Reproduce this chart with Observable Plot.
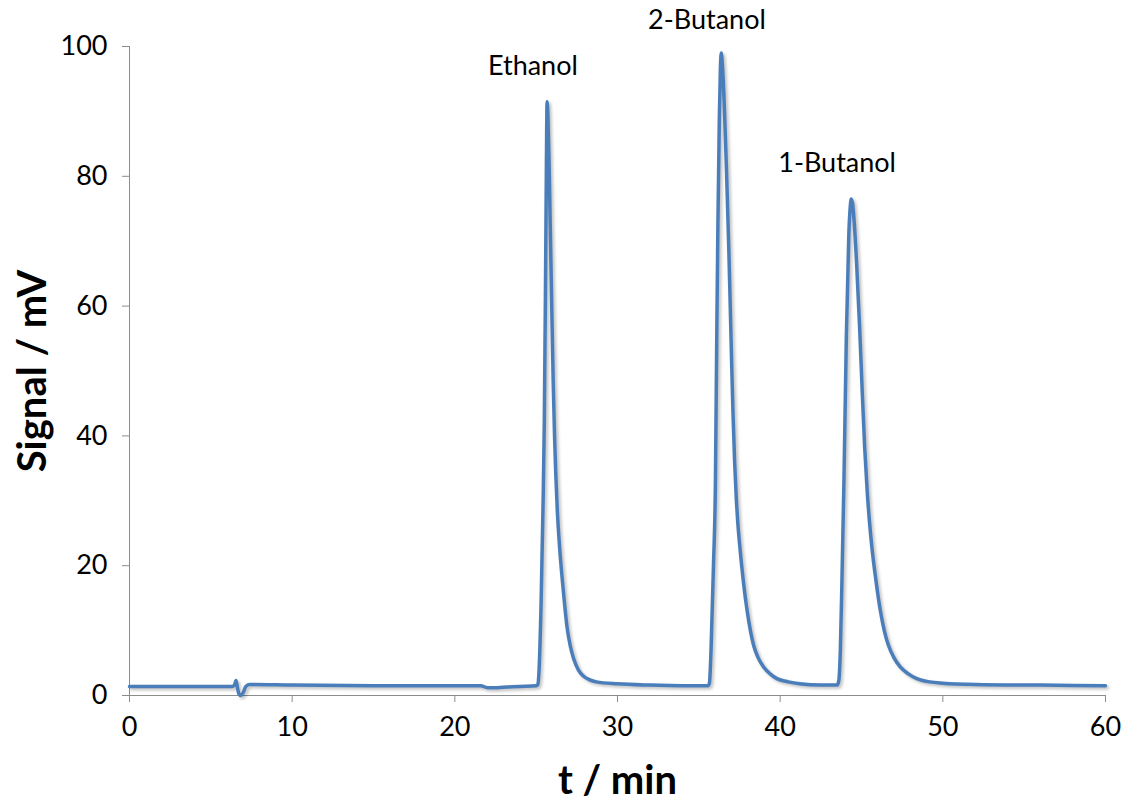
<!DOCTYPE html>
<html>
<head>
<meta charset="utf-8">
<script src="https://cdn.jsdelivr.net/npm/d3@7"></script>
<script src="https://cdn.jsdelivr.net/npm/@observablehq/plot@0.6"></script>
<style>
  html, body { margin: 0; padding: 0; background: #fff; }
  #chart svg { display: block; }
</style>
</head>
<body>
<div id="chart"></div>
<script>
// Retention time (min) and detector signal (mV) of the chromatogram
const times = [
  0, 6.3, 6.45, 6.55, 6.62, 6.72, 6.85, 7.0, 7.15, 7.4, 10, 15, 20, 21.6, 22.0, 22.6, 23.2, 24, 25.0,
  // ethanol
  25.1, 25.18, 25.3, 25.42, 25.5, 25.57, 25.63, 25.67, 25.72, 25.8, 25.92, 26.05, 26.13, 26.2, 26.3,
  26.45, 26.6, 26.75, 26.9, 27.1, 27.3, 27.6, 27.9, 28.3, 28.7, 30.0, 32, 34, 35.55,
  // 2-butanol
  35.65, 35.75, 35.9, 36.02, 36.1, 36.17, 36.26, 36.33, 36.38, 36.45, 36.57, 36.7, 36.84, 37.0, 37.1,
  37.2, 37.3, 37.4, 37.51, 37.75, 37.96, 38.17, 38.37, 38.65, 38.98, 39.4, 39.8, 40.5, 41.2, 42.5, 43.5,
  // 1-butanol
  43.6, 43.7, 43.8, 43.92, 44.07, 44.22, 44.3, 44.37, 44.45, 44.55, 44.7, 44.88, 45.05, 45.2, 45.35,
  45.5, 45.64, 45.9, 46.15, 46.4, 46.66, 47.0, 47.38, 47.9, 48.4, 49.2, 50.0, 52, 56, 60
];
const signal = [
  1.4, 1.4, 1.6, 2.3, 1.4, 0.3, 0.0, 0.5, 1.4, 1.7, 1.6, 1.5, 1.5, 1.5, 1.2, 1.2, 1.3, 1.4, 1.5,
  1.7, 4, 14, 29, 42, 62, 82, 91.5, 89.5, 81, 65, 48, 40, 34.5, 28.5,
  22.5, 18, 14, 10.5, 7.6, 5.7, 3.9, 3.0, 2.4, 2.1, 1.8, 1.6, 1.5, 1.5,
  1.9, 7, 20, 33, 55, 72, 89, 97, 99, 97, 90.6, 81, 69, 53, 43.5,
  36, 30.5, 26.5, 23.2, 17.3, 13.2, 10, 7.7, 5.8, 4.4, 3.3, 2.6, 2.1, 1.8, 1.6, 1.6,
  2.2, 7, 18, 33, 55.5, 71, 75, 76.5, 75.8, 73, 66.5, 57, 46.5, 38, 31.5,
  26.5, 22.8, 17.5, 13.2, 10, 7.7, 5.8, 4.4, 3.3, 2.6, 2.1, 1.9, 1.7, 1.6, 1.5
];

// Peak names and where they are written
const peakNames = ["Ethanol", "2-Butanol", "1-Butanol"];
const peakLabelT = [24.8, 35.5, 43.5];
const peakLabelV = [97, 104, 82];

const xTicks = [0, 10, 20, 30, 40, 50, 60];
const yTicks = [0, 20, 40, 60, 80, 100];

const trace = times.map((t, i) => ({t, v: signal[i]}));
const labels = peakNames.map((name, i) => ({name, t: peakLabelT[i], v: peakLabelV[i]}));

const axisGray = "#8c8c8c";
const lineBlue = "#4a7ebb";

const chart = Plot.plot({
  width: 1132,
  height: 803,
  marginLeft: 129,
  marginRight: 27,
  marginTop: 46,
  marginBottom: 108,
  style: {fontFamily: "Lato, sans-serif", color: "#000", background: "#fff"},
  x: {domain: [0, 60]},
  y: {domain: [0, 100]},
  marks: [
    Plot.ruleX([0], {stroke: axisGray, strokeWidth: 1}),
    Plot.ruleY([0], {stroke: axisGray, strokeWidth: 1}),
    Plot.axisX({ticks: xTicks, tickSize: 7, tickPadding: 14, fontSize: 27, stroke: axisGray, label: null}),
    Plot.axisY({ticks: yTicks, tickSize: 7, tickPadding: 15, fontSize: 27, stroke: axisGray, label: null}),
    // soft shadow under the trace
    Plot.line(trace, {x: "t", y: "v", curve: "monotone-x", stroke: "#000", strokeOpacity: 0.25, strokeWidth: 3.5, dx: 2, dy: 2}),
    Plot.line(trace, {x: "t", y: "v", curve: "monotone-x", stroke: lineBlue, strokeWidth: 3.5}),
    Plot.text(labels, {x: "t", y: "v", text: "name", fontSize: 27, fill: "#000", lineAnchor: "middle"}),
    Plot.text(["t / min"], {frameAnchor: "bottom", dy: 86, fontSize: 40, fontWeight: "bold", fill: "#000", lineAnchor: "middle", textAnchor: "middle"}),
    Plot.text(["Signal / mV"], {frameAnchor: "left", dx: -96, rotate: -90, fontSize: 40, fontWeight: "bold", fill: "#000", lineAnchor: "middle", textAnchor: "middle"})
  ]
});

// blur the shadow line
const lineGroups = chart.querySelectorAll('g[aria-label="line"]');
if (lineGroups.length > 1) lineGroups[0].style.filter = "blur(1.5px)";

document.getElementById("chart").appendChild(chart);
</script>
</body>
</html>
